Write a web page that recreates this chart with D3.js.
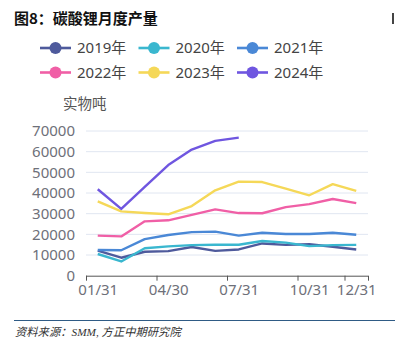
<!DOCTYPE html>
<html>
<head>
<meta charset="utf-8">
<script src="https://cdn.jsdelivr.net/npm/d3@7"></script>
<style>
html,body{margin:0;padding:0;background:#fff;}
svg{display:block;}
</style>
</head>
<body>
<svg id="chart" width="396" height="340"></svg>
<script>
// ---- data ----
const seriesNames = ["2019年","2020年","2021年","2022年","2023年","2024年"];
const seriesColors = ["#4e5a9c","#3ab7cf","#4a88d6","#f05fa6","#f5d858","#6f56e0"];
const s2019 = [12100, 8700, 11600, 11900, 13900, 12000, 12700, 15600, 14900, 15200, 14000, 12700];
const s2020 = [10500, 6900, 13300, 14200, 14800, 15000, 15000, 16800, 16000, 14300, 14800, 14900];
const s2021 = [12400, 12300, 17700, 19700, 21100, 21300, 19400, 20800, 20200, 20200, 20800, 19800];
const s2022 = [19400, 19000, 26300, 26800, 29400, 32100, 30300, 30200, 33200, 34600, 37100, 35100];
const s2023 = [36000, 31100, 30300, 29700, 33700, 41300, 45500, 45300, 42100, 38900, 44300, 41000];
const s2024 = [41800, 32300, 43000, 53500, 61000, 65200, 66800];
const allSeries = [s2019, s2020, s2021, s2022, s2023, s2024];
const monthCount = 12;
const xTickBoundaries = [0, 3, 6, 9, 11, 12];
const xLabelIndex = [0, 3, 6, 9, 11];
const xTickLabels = ["01/31", "04/30", "07/31", "10/31", "12/31"];
const yTicks = [0, 10000, 20000, 30000, 40000, 50000, 60000, 70000];
const titleText = "图8：碳酸锂月度产量";
const unitText = "实物吨";
const sourceText = "资料来源：SMM, 方正中期研究院";

// ---- drawing ----
const svg = d3.select("#chart");
const font = "'Noto Sans','Noto Sans CJK SC',sans-serif";

const x = d3.scaleLinear().domain([0, monthCount]).range([86, 368]);
const y = d3.scaleLinear().domain([0, 70000]).range([275.7, 131]);

// title
svg.append("text").attr("x", 14).attr("y", 24)
  .attr("font-family", "'Noto Sans CJK SC',sans-serif").attr("font-weight", "bold")
  .attr("font-size", 15).attr("fill", "#111").text(titleText);
svg.append("rect").attr("x", 392).attr("y", 13).attr("width", 2).attr("height", 11).attr("fill", "#444");

// legend
const legend = svg.append("g");
seriesNames.forEach((name, i) => {
  const col = i % 3, row = Math.floor(i / 3);
  const gx = 40 + col * 98.5, gy = 48 + row * 24.5;
  const g = legend.append("g").attr("transform", `translate(${gx},${gy})`);
  g.append("line").attr("x1", 0).attr("x2", 31).attr("y1", 0).attr("y2", 0)
    .attr("stroke", seriesColors[i]).attr("stroke-width", 2.6);
  g.append("circle").attr("cx", 15.5).attr("cy", 0).attr("r", 6).attr("fill", seriesColors[i]);
  g.append("text").attr("x", 37).attr("y", 0).attr("dy", "0.36em")
    .attr("font-family", font).attr("font-size", 15).attr("fill", "#444").text(name);
});

// unit label
svg.append("text").attr("x", 63).attr("y", 109)
  .attr("font-family", "'Noto Sans CJK SC',sans-serif").attr("font-size", 14.5)
  .attr("fill", "#555").text(unitText);

// grid + y labels
const yAxis = d3.axisLeft(y).tickValues(yTicks).tickSize(0).tickPadding(11).tickFormat(d3.format("d"));
const yg = svg.append("g").attr("transform", "translate(86,0)").call(yAxis);
yg.select(".domain").remove();
yg.selectAll("text").attr("font-family", font).attr("font-size", 15).attr("fill", "#6e7079");
svg.append("g").selectAll("line").data(yTicks.filter(d => d > 0)).join("line")
  .attr("x1", 86).attr("x2", 368).attr("y1", d => y(d)).attr("y2", d => y(d))
  .attr("stroke", "#e0e6f1").attr("stroke-width", 1);

// x axis: ticks at category boundaries
const xAxis = d3.axisBottom(x).tickValues(xTickBoundaries).tickSize(5).tickFormat("");
const xg = svg.append("g").attr("transform", `translate(0,${y(0)})`).call(xAxis);
xg.select(".domain").attr("stroke", "#555").attr("d", `M${x(0)},0.5H${x(monthCount)}`);
xg.selectAll(".tick line").attr("stroke", "#555");
// labels at category centres
const xLabAxis = d3.axisBottom(x).tickValues(xLabelIndex.map(d => d + 0.5)).tickSize(0).tickPadding(9)
  .tickFormat((d, i) => xTickLabels[i]);
const xl = svg.append("g").attr("transform", `translate(0,${y(0)})`).call(xLabAxis);
xl.select(".domain").remove();
xl.selectAll("text").attr("font-family", font).attr("font-size", 15).attr("fill", "#6e7079");

// lines
const line = d3.line().x((d, i) => x(i + 0.5)).y(d => y(d));
allSeries.forEach((s, i) => {
  svg.append("path").datum(s).attr("d", line).attr("fill", "none")
    .attr("stroke", seriesColors[i]).attr("stroke-width", 2.4)
    .attr("stroke-linejoin", "round");
});

// source
svg.append("line").attr("x1", 14).attr("x2", 395).attr("y1", 320.5).attr("y2", 320.5)
  .attr("stroke", "#2f5b85").attr("stroke-width", 1.2);
svg.append("text").attr("x", 15).attr("y", 336)
  .attr("font-family", "'Liberation Serif','Noto Sans CJK SC',serif").attr("font-style", "italic")
  .attr("font-size", 11.3).attr("fill", "#333").text(sourceText);
</script>
</body>
</html>
